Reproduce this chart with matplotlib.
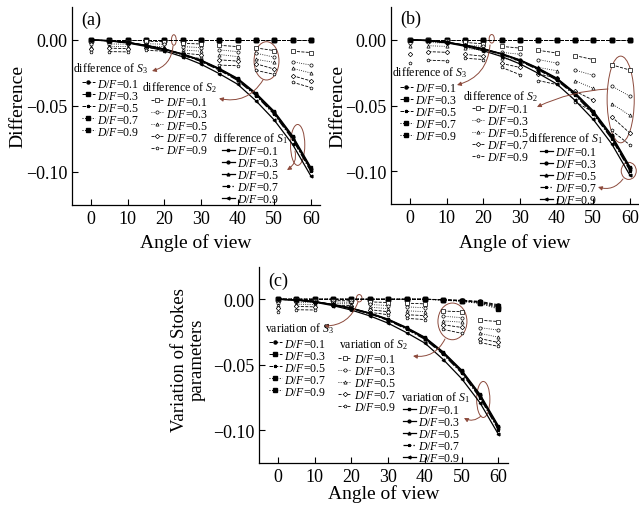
import numpy as np
import matplotlib
matplotlib.use("Agg")
import matplotlib.pyplot as plt
from matplotlib.legend import Legend
from matplotlib.patches import Ellipse
from matplotlib.ticker import FuncFormatter

plt.rcParams["font.family"] = ["Liberation Serif", "DejaVu Serif"]
plt.rcParams["mathtext.fontset"] = "custom"
plt.rcParams["mathtext.rm"] = "Liberation Serif"
plt.rcParams["mathtext.it"] = "Liberation Serif:italic"

W, H = 639, 506
BROWN = "#8c4a3c"

angles = [0, 5, 10, 15, 20, 25, 30, 35, 40, 45, 50, 55, 60]
df_values = ["0.1", "0.3", "0.5", "0.7", "0.9"]

# S1 is practically the same in all three panels
s1 = [
    [0, -0.0005, -0.0018, -0.0040, -0.0068, -0.0105, -0.0152, -0.0215, -0.0290, -0.0402, -0.0540, -0.0725, -0.0965],
    [0, -0.0005, -0.0018, -0.0041, -0.0069, -0.0107, -0.0155, -0.0219, -0.0295, -0.0408, -0.0547, -0.0733, -0.0975],
    [0, -0.0005, -0.0019, -0.0042, -0.0071, -0.0109, -0.0158, -0.0223, -0.0300, -0.0414, -0.0555, -0.0742, -0.0985],
    [0, -0.0006, -0.0020, -0.0043, -0.0073, -0.0112, -0.0162, -0.0228, -0.0306, -0.0421, -0.0563, -0.0752, -0.0995],
    [0, -0.0007, -0.0023, -0.0049, -0.0083, -0.0127, -0.0183, -0.0255, -0.0335, -0.0460, -0.0606, -0.0790, -0.1030],
]

s2_a = [
    [-0.0010, -0.0010, -0.0012, -0.0010, -0.0012, -0.0025, -0.0030, -0.0040, -0.0050, -0.0060, -0.0080, -0.0085, -0.0095],
    [-0.0030, -0.0030, -0.0032, -0.0028, -0.0032, -0.0050, -0.0058, -0.0075, -0.0088, -0.0100, -0.0130, -0.0165, -0.0190],
    [-0.0050, -0.0048, -0.0050, -0.0045, -0.0050, -0.0075, -0.0085, -0.0110, -0.0126, -0.0146, -0.0170, -0.0215, -0.0250],
    [-0.0070, -0.0062, -0.0065, -0.0060, -0.0066, -0.0100, -0.0112, -0.0150, -0.0160, -0.0180, -0.0220, -0.0270, -0.0310],
    [-0.0090, -0.0088, -0.0090, -0.0078, -0.0085, -0.0125, -0.0140, -0.0190, -0.0195, -0.0230, -0.0260, -0.0320, -0.0360],
]
s2_b = [
    [-0.0005, -0.0005, -0.0008, -0.0020, -0.0030, -0.0050, -0.0063, -0.0080, -0.0100, -0.0120, -0.0150, -0.0190, -0.0230],
    [-0.0025, -0.0020, -0.0025, -0.0040, -0.0050, -0.0095, -0.0110, -0.0150, -0.0177, -0.0230, -0.0270, -0.0350, -0.0430],
    [-0.0050, -0.0045, -0.0050, -0.0065, -0.0080, -0.0140, -0.0160, -0.0210, -0.0235, -0.0310, -0.0370, -0.0485, -0.0575],
    [-0.0110, -0.0090, -0.0095, -0.0110, -0.0125, -0.0180, -0.0210, -0.0260, -0.0290, -0.0390, -0.0460, -0.0585, -0.0710],
    [-0.0180, -0.0155, -0.0160, -0.0140, -0.0150, -0.0210, -0.0265, -0.0310, -0.0340, -0.0470, -0.0550, -0.0690, -0.0800],
]
s2_c = [
    [-0.0008, -0.0008, -0.0010, -0.0010, -0.0012, -0.0020, -0.0025, -0.0030, -0.0035, -0.0090, -0.0095, -0.0160, -0.0170],
    [-0.0025, -0.0022, -0.0025, -0.0020, -0.0024, -0.0040, -0.0048, -0.0058, -0.0065, -0.0130, -0.0140, -0.0217, -0.0235],
    [-0.0045, -0.0038, -0.0040, -0.0032, -0.0036, -0.0060, -0.0072, -0.0088, -0.0095, -0.0165, -0.0175, -0.0260, -0.0290],
    [-0.0070, -0.0055, -0.0058, -0.0045, -0.0048, -0.0080, -0.0095, -0.0118, -0.0125, -0.0195, -0.0215, -0.0300, -0.0330],
    [-0.0095, -0.0080, -0.0082, -0.0055, -0.0060, -0.0100, -0.0118, -0.0146, -0.0155, -0.0230, -0.0260, -0.0330, -0.0360],
]

s3_ab = [[0.0] * 13 for _ in df_values]
s3_c = [
    [0, 0, 0, 0, 0, 0, 0, 0, 0, -0.0003, -0.0008, -0.0016, -0.0042],
    [0, 0, 0, 0, 0, 0, 0, 0, 0, -0.0004, -0.0010, -0.0020, -0.0050],
    [0, 0, 0, 0, 0, 0, 0, 0, 0, -0.0005, -0.0012, -0.0024, -0.0058],
    [0, 0, 0, 0, 0, 0, 0, 0, 0, -0.0006, -0.0014, -0.0028, -0.0066],
    [0, 0, 0, 0, 0, 0, 0, 0, 0, -0.0007, -0.0016, -0.0032, -0.0074],
]

S1_STYLE = [("-", "s"), ("-", "o"), ("-", "^"), ("-.", "*"), ("-", "<")]
S2_STYLE = [("--", "s"), (":", "o"), (":", "^"), ("--", "D"), ("--", "p")]
S3_STYLE = [("--", "o"), ("--", "s"), ("--", "*"), (":", "s"), (":", "s")]


def fpx(x, y):
    """pixel position measured from the top-left -> figure fraction"""
    return (x / W, 1 - y / H)


def pairs(x, y):
    # S2 is drawn as short pieces 5-10, 15-20, ... with the 0 point on its own
    xs, ys = [], []
    for i in range(1, len(x) - 1, 2):
        xs += [x[i], x[i + 1], np.nan]
        ys += [y[i], y[i + 1], np.nan]
    return xs, ys


def draw_panel(ax, s1_rows, s2_rows, s3_rows):
    h1, h2, h3 = [], [], []
    for row, (ls, mk), df in zip(s3_rows, S3_STYLE, df_values):
        ln, = ax.plot(angles, row, ls=ls, marker=mk, ms=2.2, lw=0.7, color="k",
                      label=f"$D/F$={df}")
        h3.append(ln)
    for row, (ls, mk), df in zip(s2_rows, S2_STYLE, df_values):
        xs, ys = pairs(angles, row)
        ln, = ax.plot(xs, ys, ls=ls, marker=mk, ms=2.3, lw=0.6, color="k",
                      mfc="white", mew=0.5, label=f"$D/F$={df}")
        ax.plot(angles[0], row[0], ls="none", marker=mk, ms=2.3, color="k",
                mfc="white", mew=0.5)
        h2.append(ln)
    for row, (ls, mk), df in zip(s1_rows, S1_STYLE, df_values):
        ln, = ax.plot(angles, row, ls=ls, marker=mk, ms=2.0, lw=0.9, color="k",
                      label=f"$D/F$={df}")
        h1.append(ln)

    ax.set_xlim(-5.2, 62.5)
    ax.set_ylim(-0.125, 0.025)
    ax.set_xticks(range(0, 61, 10))
    ax.set_yticks([-0.10, -0.05, 0.0])
    ax.yaxis.set_major_formatter(FuncFormatter(lambda v, p: f"{v:.2f}".replace("-", "\u2212")))
    ax.tick_params(direction="in", length=4, width=0.8, labelsize=13, pad=3.5)
    for side in ("top", "right"):
        ax.spines[side].set_visible(False)
    for side in ("left", "bottom"):
        ax.spines[side].set_linewidth(0.9)
    return h1, h2, h3


def add_key(fig, ax, handles, title, title_xy, key_xy):
    leg = Legend(ax, handles, [h.get_label() for h in handles], loc="upper left",
                 bbox_to_anchor=fpx(key_xy[0], key_xy[1] + 1), bbox_transform=fig.transFigure,
                 frameon=False, fontsize=8.5, handlelength=1.1, handletextpad=0.2,
                 labelspacing=0.0, borderpad=0, borderaxespad=0, numpoints=1)
    ax.add_artist(leg)
    fig.text(*fpx(title_xy[0], title_xy[1] - 1.5), title, fontsize=8.5,
             ha="left", va="center")


def mark(ax, center, size, start, target, rad=-0.35):
    ax.add_patch(Ellipse(center, size[0], size[1], fill=False, ec=BROWN, lw=0.7))
    ax.annotate("", xy=fpx(*target), xycoords="figure fraction",
                xytext=fpx(*start), textcoords="figure fraction",
                arrowprops=dict(arrowstyle="-|>", color=BROWN, lw=0.7,
                                mutation_scale=6, shrinkA=0, shrinkB=0,
                                connectionstyle=f"arc3,rad={rad}"))


fig = plt.figure(figsize=(W / 100, H / 100), dpi=100)
ax_a = fig.add_axes([72 / W, 1 - 206 / H, 248 / W, 198 / H])
ax_b = fig.add_axes([391 / W, 1 - 205 / H, 248 / W, 197 / H])
ax_c = fig.add_axes([259 / W, 1 - 464 / H, 248.5 / W, 196.5 / H])

# panel (a)
h1, h2, h3 = draw_panel(ax_a, s1, s2_a, s3_ab)
add_key(fig, ax_a, h3, "difference of $S_3$", (72.7, 70), (81.7, 77.5))
add_key(fig, ax_a, h2, "difference of $S_2$", (141.7, 89.3), (151, 95.5))
add_key(fig, ax_a, h1, "difference of $S_1$", (213, 140), (221.7, 145))
mark(ax_a, (22.6, 0.0), (1.3, 0.008), (173, 47), (152, 72))
mark(ax_a, (47.9, -0.0158), (6.8, 0.029), (263, 81), (219, 99.5))
mark(ax_a, (56.4, -0.0795), (3.9, 0.031), (295, 152), (287, 171))
ax_a.set_ylabel("Difference", fontsize=14, va="center")
ax_a.yaxis.set_label_coords(-0.22, 0.5)
ax_a.set_xlabel("Angle of view", fontsize=14, va="center")
ax_a.xaxis.set_label_coords(0.5, -0.187)
ax_a.text(0.039, 0.94, "(a)", transform=ax_a.transAxes, fontsize=13, va="center")

# panel (b)
h1, h2, h3 = draw_panel(ax_b, s1, s2_b, s3_ab)
add_key(fig, ax_b, h3, "difference of $S_3$", (391.7, 74), (400, 82))
add_key(fig, ax_b, h2, "difference of $S_2$", (462.7, 98), (471.7, 103))
add_key(fig, ax_b, h1, "difference of $S_1$", (528, 140), (540, 146.5))
mark(ax_b, (22.3, 0.0008), (1.4, 0.0065), (490, 46), (457, 86))
mark(ax_b, (57.5, -0.0454), (7.4, 0.066), (608, 90), (537, 108), rad=0.1)
mark(ax_b, (59.7, -0.0998), (4.1, 0.013), (623, 180), (598, 188))
ax_b.set_ylabel("Difference", fontsize=14, va="center")
ax_b.yaxis.set_label_coords(-0.216, 0.5)
ax_b.set_xlabel("Angle of view", fontsize=14, va="center")
ax_b.xaxis.set_label_coords(0.5, -0.193)
ax_b.text(0.036, 0.94, "(b)", transform=ax_b.transAxes, fontsize=13, va="center")

# panel (c)
h1, h2, h3 = draw_panel(ax_c, s1, s2_c, s3_c)
add_key(fig, ax_c, h3, "variation of $S_3$", (265, 330), (269, 337.5))
add_key(fig, ax_c, h2, "variation of $S_2$", (339.3, 345.7), (338.3, 353))
add_key(fig, ax_c, h1, "variation of $S_1$", (401, 399), (403, 404))
mark(ax_c, (22.1, 0.0008), (1.5, 0.0056), (358, 303), (324, 327))
mark(ax_c, (47.5, -0.0169), (7.9, 0.028), (445, 340), (413, 357))
mark(ax_c, (55.9, -0.0765), (3.6, 0.0275), (481, 417), (464, 419))
ax_c.set_ylabel("Variation of Stokes\nparameters", fontsize=13.5, va="center",
                linespacing=1.05)
ax_c.yaxis.set_label_coords(-0.286, 0.53)
ax_c.set_xlabel("Angle of view", fontsize=14, va="center")
ax_c.xaxis.set_label_coords(0.5, -0.151)
ax_c.text(0.036, 0.93, "(c)", transform=ax_c.transAxes, fontsize=13, va="center")

fig.savefig("out.png", dpi=100)
